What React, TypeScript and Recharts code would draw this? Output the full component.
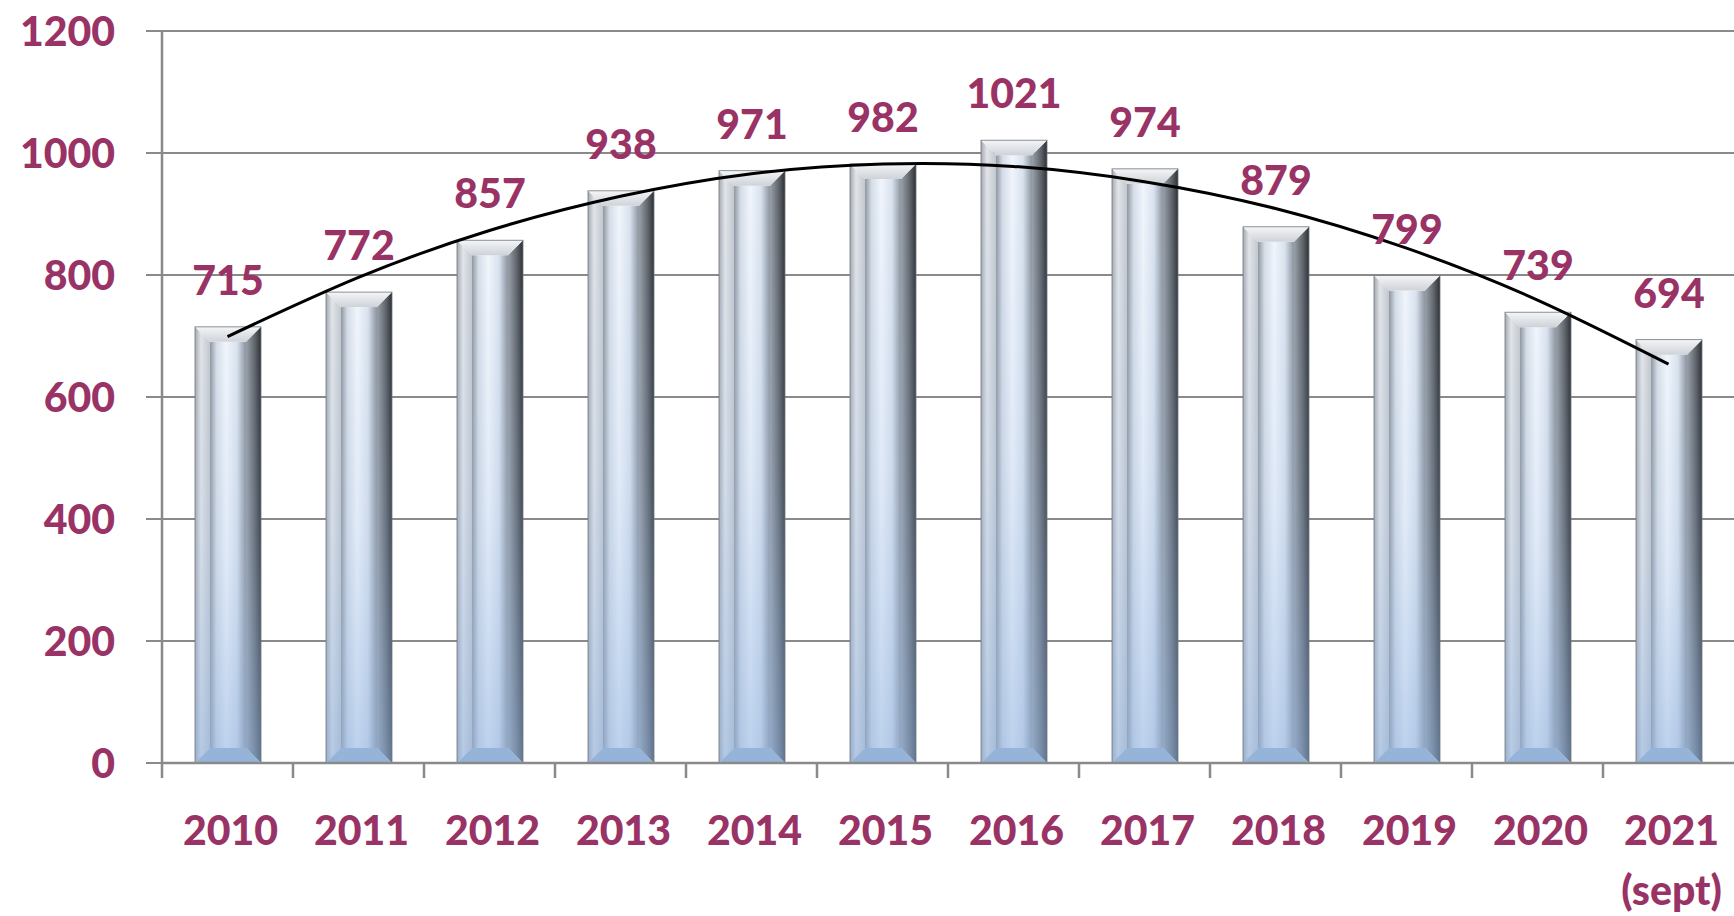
import React from 'react';
import { ComposedChart, Bar, Line, XAxis, YAxis, CartesianGrid, LabelList } from 'recharts';

const years = ['2010', '2011', '2012', '2013', '2014', '2015', '2016', '2017', '2018', '2019', '2020', '2021'];
const subLabels = ['', '', '', '', '', '', '', '', '', '', '', '(sept)'];
const counts = [715, 772, 857, 938, 971, 982, 1021, 974, 879, 799, 739, 694];
const trend = [699, 796, 873, 929, 966, 982, 978, 953, 909, 844, 759, 654];
const yTicks = [0, 200, 400, 600, 800, 1000, 1200];

const data = years.map((y, i) => ({ year: y, value: counts[i], trend: trend[i] }));

const W = 1734;
const H = 916;
const Y_AXIS_W = 162;
const X_AXIS_H = 153;
const PLOT_W = W - Y_AXIS_W;
const LABEL = '#993366';
const GRID = '#8a8a8a';
const FONT = 'Lato, "Open Sans", sans-serif';
const WEIGHT = 900;

const BevelBar = (props: any) => {
  const { x, y, width: w, height: h, index } = props;
  if (!h || h <= 0) return null;
  const b = Math.min(15, w / 4, h / 2);
  const id = `bb${index}`;
  return (
    <g>
      <defs>
        <linearGradient id={`${id}l`} x1="0" y1="0" x2="1" y2="0">
          <stop offset="0" stopColor="#a4a9b0" />
          <stop offset="0.4" stopColor="#e2e5e9" />
          <stop offset="1" stopColor="#c3c8ce" />
        </linearGradient>
        <linearGradient id={`${id}r`} x1="0" y1="0" x2="1" y2="0">
          <stop offset="0" stopColor="#9aa0a7" />
          <stop offset="0.6" stopColor="#5d6268" />
          <stop offset="1" stopColor="#2c2f33" />
        </linearGradient>
        <linearGradient id={`${id}t`} x1="0" y1="0" x2="0" y2="1">
          <stop offset="0" stopColor="#f4f5f7" />
          <stop offset="1" stopColor="#cfd3d8" />
        </linearGradient>
        <linearGradient id={`${id}f`} x1="0" y1="0" x2="1" y2="0">
          <stop offset="0" stopColor="#8f969f" />
          <stop offset="0.18" stopColor="#d5dde7" />
          <stop offset="0.45" stopColor="#f2f6fc" />
          <stop offset="0.75" stopColor="#d9e2ee" />
          <stop offset="1" stopColor="#8b939d" />
        </linearGradient>
        <linearGradient id={`${id}v`} x1="0" y1="0" x2="0" y2="1">
          <stop offset="0" stopColor="#9fbde6" stopOpacity="0" />
          <stop offset="0.5" stopColor="#9fbde6" stopOpacity="0.2" />
          <stop offset="1" stopColor="#8fb2e0" stopOpacity="0.55" />
        </linearGradient>
      </defs>
      <rect x={x + b} y={y + b} width={w - 2 * b} height={h - 2 * b} fill={`url(#${id}f)`} />
      <polygon points={`${x},${y} ${x + b},${y + b} ${x + b},${y + h - b} ${x},${y + h}`} fill={`url(#${id}l)`} />
      <polygon points={`${x + w},${y} ${x + w - b},${y + b} ${x + w - b},${y + h - b} ${x + w},${y + h}`} fill={`url(#${id}r)`} />
      <polygon points={`${x},${y} ${x + w},${y} ${x + w - b},${y + b} ${x + b},${y + b}`} fill={`url(#${id}t)`} />
      <polygon points={`${x + b},${y + h - b} ${x + w - b},${y + h - b} ${x + w},${y + h} ${x},${y + h}`} fill="#9db3cf" />
      <rect x={x} y={y} width={w} height={h} fill={`url(#${id}v)`} />
      <rect x={x} y={y} width={w} height={h} fill="none" stroke="#6f757c" strokeWidth={0.8} />
    </g>
  );
};

const XTick = (props: any) => {
  const { x, y, payload } = props;
  const idx = years.indexOf(payload.value);
  const band = PLOT_W / years.length;
  const lx = x - band / 2;
  return (
    <g>
      <line x1={lx} x2={lx} y1={y} y2={y + 15} stroke={GRID} strokeWidth={2.5} />
      <text x={x + 3} y={y + 82} textAnchor="middle" fill={LABEL} fontSize={41} fontWeight={WEIGHT} fontFamily={FONT}>
        {years[idx]}
      </text>
      {subLabels[idx] ? (
        <text x={x + 3} y={y + 142} textAnchor="middle" fill={LABEL} fontSize={41} fontWeight={WEIGHT} fontFamily={FONT}>
          {subLabels[idx]}
        </text>
      ) : null}
    </g>
  );
};

export default function App() {
  return (
    <div style={{ position: 'absolute', left: 0, top: 0, width: W, height: H, background: '#fff' }}>
      <ComposedChart width={W} height={H} data={data} margin={{ top: 31, right: 0, left: 0, bottom: 0 }}>
        <CartesianGrid vertical={false} stroke={GRID} strokeWidth={2} />
        <XAxis
          dataKey="year"
          interval={0}
          height={X_AXIS_H}
          tickLine={false}
          tickSize={0}
          tickMargin={0}
          axisLine={{ stroke: GRID, strokeWidth: 2.5 }}
          tick={<XTick />}
        />
        <YAxis
          width={Y_AXIS_W}
          domain={[0, 1200]}
          ticks={yTicks}
          interval={0}
          tickSize={16}
          tickMargin={31}
          axisLine={{ stroke: GRID, strokeWidth: 2.5 }}
          tickLine={{ stroke: GRID, strokeWidth: 2 }}
          tick={{ fill: LABEL, fontSize: 41, fontWeight: WEIGHT, fontFamily: FONT }}
        />
        <Bar dataKey="value" barSize={66} shape={<BevelBar />} isAnimationActive={false}>
          <LabelList dataKey="value" position="top" offset={32} fill={LABEL} fontSize={41} fontWeight={WEIGHT} fontFamily={FONT} />
        </Bar>
        <Line dataKey="trend" type="natural" stroke="#000" strokeWidth={3} dot={false} activeDot={false} isAnimationActive={false} />
      </ComposedChart>
    </div>
  );
}
